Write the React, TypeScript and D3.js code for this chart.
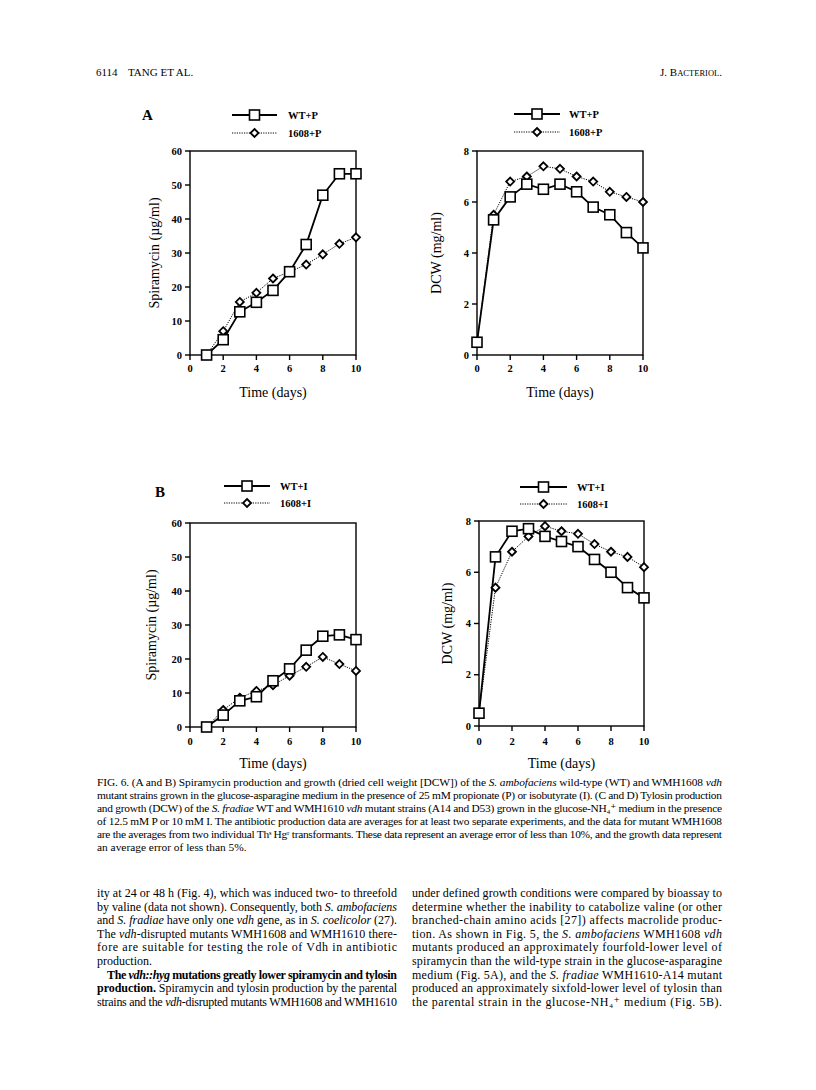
import React from "react";
import * as d3 from "d3";

const days = [0, 1, 2, 3, 4, 5, 6, 7, 8, 9, 10];
const daysFrom1 = [1, 2, 3, 4, 5, 6, 7, 8, 9, 10];

// Panel A left: spiramycin with propionate
const spiraWTP = [0, 4.5, 12.7, 15.5, 19.0, 24.5, 32.5, 47.0, 53.3, 53.3];
const spira1608P = [0, 7.0, 15.6, 18.3, 22.5, 24.5, 26.6, 29.6, 32.7, 34.6];
// Panel A right: DCW with propionate
const dcwWTP = [0.5, 5.3, 6.2, 6.7, 6.5, 6.7, 6.4, 5.8, 5.5, 4.8, 4.2];
const dcw1608P = [0.5, 5.5, 6.8, 7.0, 7.4, 7.3, 7.0, 6.8, 6.4, 6.2, 6.0];
// Panel B left: spiramycin with isobutyrate
const spiraWTI = [0, 3.5, 7.7, 8.9, 13.6, 17.1, 22.6, 26.7, 27.1, 25.7];
const spira1608I = [0, 5.0, 8.6, 10.6, 12.3, 15.1, 17.7, 20.6, 18.5, 16.5];
// Panel B right: DCW with isobutyrate
const dcwWTI = [0.5, 6.6, 7.6, 7.7, 7.4, 7.2, 7.0, 6.5, 6.0, 5.4, 5.0];
const dcw1608I = [0.5, 5.4, 6.8, 7.4, 7.8, 7.6, 7.5, 7.1, 6.8, 6.6, 6.2];

const xTicks = [0, 2, 4, 6, 8, 10];
const spiraTicks = [0, 10, 20, 30, 40, 50, 60];
const dcwTicks = [0, 2, 4, 6, 8];

const SERIF = "'Liberation Serif', 'DejaVu Serif', serif";

type PanelProps = {
  left: number; right: number; top: number; bottom: number;
  yMax: number; yTicks: number[];
  wtX: number[]; wt: number[]; muX: number[]; mu: number[];
  yLabel: string; yLabelX: number; xLabelY: number; tickLabelY: number;
  legendX1: number; legendX2: number; legendY1: number; legendY2: number; legendTextX: number;
  wtName: string; muName: string;
};

function Square({ x, y }: { x: number; y: number }) {
  return <rect x={x - 5} y={y - 5} width={10} height={10} fill="white" stroke="black" strokeWidth={1.6} />;
}
function Diamond({ x, y }: { x: number; y: number }) {
  const r = 4;
  return (
    <path d={`M${x},${y - r}L${x + r},${y}L${x},${y + r}L${x - r},${y}Z`} fill="white" stroke="black" strokeWidth={1.8} />
  );
}

function Panel(p: PanelProps) {
  const xs = d3.scaleLinear().domain([0, 10]).range([p.left, p.right]);
  const ys = d3.scaleLinear().domain([0, p.yMax]).range([p.bottom, p.top]);
  const line = d3.line<[number, number]>().x((d) => xs(d[0])).y((d) => ys(d[1]));
  const wtPts: [number, number][] = p.wtX.map((x, i) => [x, p.wt[i]]);
  const muPts: [number, number][] = p.muX.map((x, i) => [x, p.mu[i]]);
  const cx = (p.left + p.right) / 2;
  const cy = (p.top + p.bottom) / 2;
  const lm = (p.legendX1 + p.legendX2) / 2;
  return (
    <g>
      <rect x={p.left} y={p.top} width={p.right - p.left} height={p.bottom - p.top} fill="none" stroke="black" strokeWidth={1.4} />
      {p.yTicks.map((t) => (
        <g key={"y" + t}>
          <line x1={p.left - 5} x2={p.left} y1={ys(t)} y2={ys(t)} stroke="black" strokeWidth={1.4} />
          <text x={p.left - 8} y={ys(t) + 3.6} textAnchor="end" fontSize={10.5} fontWeight="bold" fontFamily={SERIF}>{t}</text>
        </g>
      ))}
      {xTicks.map((t) => (
        <g key={"x" + t}>
          <line x1={xs(t)} x2={xs(t)} y1={p.bottom} y2={p.bottom + 5} stroke="black" strokeWidth={1.4} />
          <text x={xs(t)} y={p.tickLabelY} textAnchor="middle" fontSize={10.5} fontWeight="bold" fontFamily={SERIF}>{t}</text>
        </g>
      ))}
      <path d={line(muPts) || ""} fill="none" stroke="black" strokeWidth={1} strokeDasharray="1.2,1.2" />
      <path d={line(wtPts) || ""} fill="none" stroke="black" strokeWidth={1.8} />
      {muPts.map((d, i) => <Diamond key={"m" + i} x={xs(d[0])} y={ys(d[1])} />)}
      {wtPts.map((d, i) => <Square key={"w" + i} x={xs(d[0])} y={ys(d[1])} />)}
      <text transform={`translate(${p.yLabelX},${cy}) rotate(-90)`} textAnchor="middle" fontSize={14} fontFamily={SERIF}>{p.yLabel}</text>
      <text x={cx} y={p.xLabelY} textAnchor="middle" fontSize={14} fontFamily={SERIF}>Time (days)</text>
      {/* legend */}
      <line x1={p.legendX1} x2={p.legendX2} y1={p.legendY1} y2={p.legendY1} stroke="black" strokeWidth={1.8} />
      <Square x={lm} y={p.legendY1} />
      <text x={p.legendTextX} y={p.legendY1 + 4} fontSize={10.5} fontWeight="bold" fontFamily={SERIF}>{p.wtName}</text>
      <line x1={p.legendX1} x2={p.legendX2} y1={p.legendY2} y2={p.legendY2} stroke="black" strokeWidth={1} strokeDasharray="1.2,1.2" />
      <Diamond x={lm} y={p.legendY2} />
      <text x={p.legendTextX} y={p.legendY2 + 4} fontSize={10.5} fontWeight="bold" fontFamily={SERIF}>{p.muName}</text>
    </g>
  );
}

const captionLines: { parts: [string, boolean][]; justify: boolean }[] = [
  { parts: [["FIG. 6. (A and B) Spiramycin production and growth (dried cell weight [DCW]) of the ", false], ["S. ambofaciens", true], [" wild-type (WT) and WMH1608 ", false], ["vdh", true]], justify: true },
  { parts: [["mutant strains grown in the glucose-asparagine medium in the presence of 25 mM propionate (P) or isobutyrate (I). (C and D) Tylosin production", false]], justify: true },
  { parts: [["and growth (DCW) of the ", false], ["S. fradiae", true], [" WT and WMH1610 ", false], ["vdh", true], [" mutant strains (A14 and D53) grown in the glucose-NH\u2084\u207A medium in the presence", false]], justify: true },
  { parts: [["of 12.5 mM P or 10 mM I. The antibiotic production data are averages for at least two separate experiments, and the data for mutant WMH1608", false]], justify: true },
  { parts: [["are the averages from two individual Th\u02E2 Hg\u02B3 transformants. These data represent an average error of less than 10%, and the growth data represent", false]], justify: true },
  { parts: [["an average error of less than 5%.", false]], justify: false },
];

type Seg = [string, string]; // text, style: n=normal i=italic b=bold bi=bold italic
const leftCol: { segs: Seg[]; justify: boolean; indent?: number }[] = [
  { segs: [["ity at 24 or 48 h (Fig. 4), which was induced two- to threefold", "n"]], justify: true },
  { segs: [["by valine (data not shown). Consequently, both ", "n"], ["S. ambofaciens", "i"]], justify: true },
  { segs: [["and ", "n"], ["S. fradiae", "i"], [" have only one ", "n"], ["vdh", "i"], [" gene, as in ", "n"], ["S. coelicolor", "i"], [" (27).", "n"]], justify: true },
  { segs: [["The ", "n"], ["vdh", "i"], ["-disrupted mutants WMH1608 and WMH1610 there-", "n"]], justify: true },
  { segs: [["fore are suitable for testing the role of Vdh in antibiotic", "n"]], justify: true },
  { segs: [["production.", "n"]], justify: false },
  { segs: [["The ", "b"], ["vdh::hyg", "bi"], [" mutations greatly lower spiramycin and tylosin", "b"]], justify: true, indent: 10 },
  { segs: [["production.", "b"], [" Spiramycin and tylosin production by the parental", "n"]], justify: true },
  { segs: [["strains and the ", "n"], ["vdh", "i"], ["-disrupted mutants WMH1608 and WMH1610", "n"]], justify: true },
];
const rightCol: { segs: Seg[]; justify: boolean; indent?: number }[] = [
  { segs: [["under defined growth conditions were compared by bioassay to", "n"]], justify: true },
  { segs: [["determine whether the inability to catabolize valine (or other", "n"]], justify: true },
  { segs: [["branched-chain amino acids [27]) affects macrolide produc-", "n"]], justify: true },
  { segs: [["tion. As shown in Fig. 5, the ", "n"], ["S. ambofaciens", "i"], [" WMH1608 ", "n"], ["vdh", "i"]], justify: true },
  { segs: [["mutants produced an approximately fourfold-lower level of", "n"]], justify: true },
  { segs: [["spiramycin than the wild-type strain in the glucose-asparagine", "n"]], justify: true },
  { segs: [["medium (Fig. 5A), and the ", "n"], ["S. fradiae", "i"], [" WMH1610-A14 mutant", "n"]], justify: true },
  { segs: [["produced an approximately sixfold-lower level of tylosin than", "n"]], justify: true },
  { segs: [["the parental strain in the glucose-NH\u2084\u207A medium (Fig. 5B).", "n"]], justify: true },
];

function BodyColumn({ x, w, y0, lh, lines }: { x: number; w: number; y0: number; lh: number; lines: { segs: Seg[]; justify: boolean; indent?: number }[] }) {
  return (
    <g>
      {lines.map((ln, i) => {
        const ind = ln.indent || 0;
        return (
          <text key={i} x={x + ind} y={y0 + i * lh} fontSize={12} fontFamily={SERIF}
            {...(ln.justify ? { textLength: w - ind, lengthAdjust: "spacing" } : {})}>
            {ln.segs.map((s, j) => (
              <tspan key={j} fontStyle={s[1].includes("i") ? "italic" : "normal"} fontWeight={s[1].includes("b") ? "bold" : "normal"}>{s[0]}</tspan>
            ))}
          </text>
        );
      })}
    </g>
  );
}

export default function App() {
  return (
    <svg width={816} height={1090} style={{ position: "absolute", left: 0, top: 0, background: "white" }}>
      <rect x={0} y={0} width={816} height={1090} fill="white" />
      {/* header */}
      <text x={96} y={76} fontSize={11} fontFamily={SERIF}>6114</text>
      <text x={128} y={76} fontSize={11} fontFamily={SERIF}>TANG ET AL.</text>
      <text x={722} y={76} textAnchor="end" fontSize={11} fontFamily={SERIF}>
        J. B<tspan fontSize={8.5}>ACTERIOL</tspan>.
      </text>

      <text x={142} y={120} fontSize={15} fontWeight="bold" fontFamily={SERIF}>A</text>
      <text x={155} y={497} fontSize={15} fontWeight="bold" fontFamily={SERIF}>B</text>

      <Panel left={190} right={356} top={151} bottom={355} yMax={60} yTicks={spiraTicks}
        wtX={daysFrom1} wt={spiraWTP} muX={daysFrom1} mu={spira1608P}
        yLabel="Spiramycin (µg/ml)" yLabelX={159} xLabelY={397} tickLabelY={372}
        legendX1={232} legendX2={277} legendY1={115} legendY2={133} legendTextX={288}
        wtName="WT+P" muName="1608+P" />
      <Panel left={477} right={643} top={151} bottom={355} yMax={8} yTicks={dcwTicks}
        wtX={days} wt={dcwWTP} muX={days} mu={dcw1608P}
        yLabel="DCW (mg/ml)" yLabelX={441} xLabelY={397} tickLabelY={372}
        legendX1={514} legendX2={560} legendY1={114} legendY2={132} legendTextX={569}
        wtName="WT+P" muName="1608+P" />
      <Panel left={190} right={356} top={523} bottom={727} yMax={60} yTicks={spiraTicks}
        wtX={daysFrom1} wt={spiraWTI} muX={daysFrom1} mu={spira1608I}
        yLabel="Spiramycin (µg/ml)" yLabelX={156} xLabelY={768} tickLabelY={745}
        legendX1={224} legendX2={270} legendY1={486} legendY2={503} legendTextX={280}
        wtName="WT+I" muName="1608+I" />
      <Panel left={479} right={644} top={521} bottom={726} yMax={8} yTicks={dcwTicks}
        wtX={days} wt={dcwWTI} muX={days} mu={dcw1608I}
        yLabel="DCW (mg/ml)" yLabelX={452} xLabelY={768} tickLabelY={745}
        legendX1={520} legendX2={567} legendY1={487} legendY2={504} legendTextX={577}
        wtName="WT+I" muName="1608+I" />

      {/* caption */}
      {captionLines.map((ln, i) => (
        <text key={i} x={97} y={786 + i * 13} fontSize={11.4} fontFamily={SERIF}
          {...(ln.justify ? { textLength: 625, lengthAdjust: "spacing" } : {})}>
          {ln.parts.map((p, j) => (
            <tspan key={j} fontStyle={p[1] ? "italic" : "normal"}>{p[0]}</tspan>
          ))}
        </text>
      ))}

      <BodyColumn x={97} w={300} y0={897} lh={13.6} lines={leftCol} />
      <BodyColumn x={412} w={310} y0={897} lh={13.6} lines={rightCol} />
    </svg>
  );
}
